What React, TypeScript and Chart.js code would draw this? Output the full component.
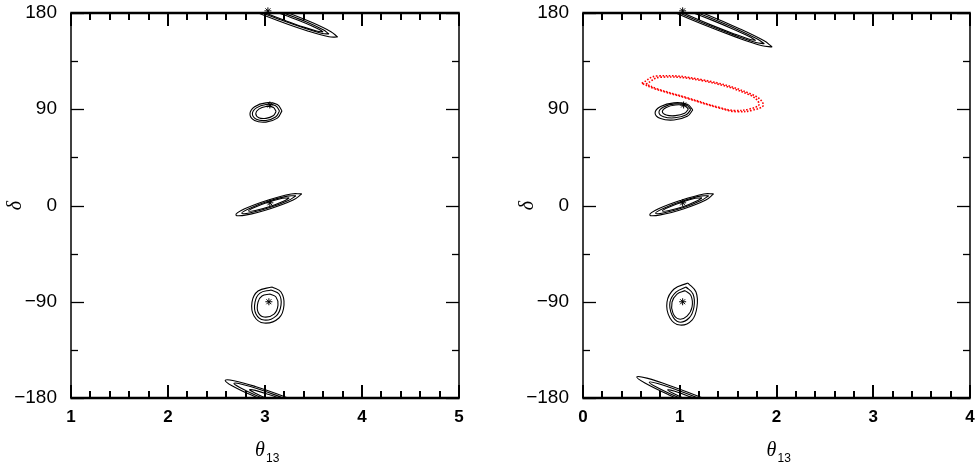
import React, { useEffect, useRef } from "react";
import { Chart, registerables } from "chart.js";
Chart.register(...registerables);

type Pt = [number, number];

// ---- axes ----
const Y_MIN = -180;
const Y_MAX = 180;
const Y_MAJOR = 90;
const Y_MINOR = 45;
const X_MINOR = 0.2;
const yTickValues = [-180, -90, 0, 90, 180];
const yTickLabels = ["\u2212180", "\u221290", "0", "90", "180"];
const leftXTickValues = [1, 2, 3, 4, 5];
const leftXTickLabels = ["1", "2", "3", "4", "5"];
const rightXTickValues = [0, 1, 2, 3, 4];
const rightXTickLabels = ["0", "1", "2", "3", "4"];

// ---- left panel contours [theta13, delta] ----
const leftWrapOuter: Pt[] = [[3.75,157.5],[3.68,162.5],[3.48,171.3],[3.19,181.7],[2.90,190.8],[2.68,196.2],[2.59,196.5],[2.66,191.5],[2.86,182.7],[3.15,172.3],[3.44,163.2],[3.66,157.8]];
const leftWrapMid: Pt[] = [[3.66,160.4],[3.60,164.3],[3.43,171.6],[3.18,180.3],[2.94,188.2],[2.75,193.1],[2.68,193.6],[2.74,189.8],[2.91,182.4],[3.16,173.7],[3.41,165.8],[3.59,160.9]];
const leftWrapInner: Pt[] = [[3.60,162.3],[3.55,165.1],[3.42,170.5],[3.23,177.1],[3.04,183.2],[2.90,187.1],[2.84,187.7],[2.89,185.0],[3.02,179.5],[3.21,172.9],[3.40,166.8],[3.54,163.0]];
const left90Outer: Pt[] = [[3.175,88.5],[3.127,94.5],[3.01,96],[2.893,92.3],[2.845,85.5],[2.893,79.5],[3.01,78],[3.127,81.7]];
const left90Mid: Pt[] = [[3.15,88.3],[3.109,93.3],[3.01,94.5],[2.911,91.3],[2.87,85.7],[2.911,80.7],[3.01,79.5],[3.109,82.7]];
const left90Inner: Pt[] = [[3.115,88],[3.084,91.9],[3.01,92.5],[2.936,90.1],[2.905,86],[2.936,82.1],[3.01,81.5],[3.084,83.9]];
const left0Outer: Pt[] = [[3.38,10.85],[3.27,10.8],[3.026,5.0],[2.79,-3.1],[2.70,-8.85],[2.81,-8.8],[3.054,-3.0],[3.29,5.1]];
const left0Mid: Pt[] = [[3.32,9.1],[3.23,8.8],[3.03,3.9],[2.84,-2.7],[2.76,-7.1],[2.85,-6.8],[3.05,-1.9],[3.24,4.7]];
const left0Inner: Pt[] = [[3.25,7.1],[3.18,6.7],[3.03,3.0],[2.89,-1.9],[2.83,-5.1],[2.90,-4.7],[3.05,-1.0],[3.19,3.9]];
const leftM90Outer: Pt[] = [[3.072,-76.2],[3.165,-80.9],[3.196,-93.1],[3.144,-105.2],[2.990,-109.9],[2.887,-103.3],[2.866,-90.3],[2.928,-80.0]];
const leftM90Mid: Pt[] = [[3.062,-79.0],[3.144,-82.8],[3.165,-93.1],[3.113,-103.4],[2.990,-107.1],[2.907,-101.5],[2.897,-90.3],[2.948,-81.9]];
const leftM90Inner: Pt[] = [[3.052,-82.8],[3.113,-85.6],[3.134,-93.1],[3.093,-101.5],[2.990,-104.3],[2.928,-99.6],[2.928,-90.3],[2.969,-84.7]];
const leftStars: Pt[] = [[3.03,182],[3.05,94],[3.05,2.5],[3.04,-90]];

// ---- right panel contours ----
const rightWrapOuter: Pt[] = [[1.956,148.3],[1.872,154.0],[1.623,165.1],[1.276,178.6],[0.923,190.8],[0.660,198.6],[0.556,199.7],[0.640,194.0],[0.889,182.9],[1.236,169.4],[1.589,157.2],[1.852,149.4]];
const rightWrapMid: Pt[] = [[1.875,151.2],[1.802,155.7],[1.59,164.9],[1.294,176.2],[0.994,186.7],[0.772,193.5],[0.685,194.8],[0.758,190.3],[0.97,181.1],[1.266,169.8],[1.566,159.3],[1.788,152.5]];
const rightWrapInner: Pt[] = [[1.785,154.3],[1.729,157.6],[1.566,164.4],[1.339,173.1],[1.11,181.1],[0.941,186.5],[0.875,187.7],[0.931,184.4],[1.094,177.6],[1.321,168.9],[1.55,160.9],[1.719,155.5]];
const right90Outer: Pt[] = [[1.135,89.5],[1.078,94.7],[0.94,96],[0.802,92.6],[0.745,86.5],[0.802,81.3],[0.94,80],[1.078,83.4]];
const right90Mid: Pt[] = [[1.115,89.8],[1.067,94.0],[0.95,95],[0.833,92.2],[0.785,87.2],[0.833,83.0],[0.95,82],[1.067,84.8]];
const right90Inner: Pt[] = [[1.09,90.2],[1.05,93.4],[0.955,94],[0.86,91.7],[0.82,87.8],[0.86,84.6],[0.955,84],[1.05,86.3]];
const right0Outer: Pt[] = [[1.35,10.85],[1.25,10.8],[1.016,5.0],[0.78,-3.1],[0.69,-8.85],[0.80,-8.8],[1.044,-3.0],[1.27,5.1]];
const right0Mid: Pt[] = [[1.30,9.1],[1.21,8.8],[1.02,3.9],[0.83,-2.7],[0.75,-7.1],[0.84,-6.8],[1.04,-1.9],[1.22,4.7]];
const right0Inner: Pt[] = [[1.23,7.1],[1.16,6.7],[1.02,3.0],[0.88,-1.9],[0.82,-5.1],[0.89,-4.7],[1.04,-1.0],[1.17,3.9]];
const rightM90Outer: Pt[] = [[1.085,-72.5],[1.168,-80.9],[1.178,-94.9],[1.127,-107.1],[1.003,-111.8],[0.899,-105.2],[0.868,-90.3],[0.941,-78.1]];
const rightM90Mid: Pt[] = [[1.065,-76.2],[1.137,-82.8],[1.147,-94.9],[1.096,-105.2],[0.992,-109.0],[0.920,-102.4],[0.899,-90.3],[0.961,-81.0]];
const rightM90Inner: Pt[] = [[1.054,-79.6],[1.116,-84.3],[1.127,-94.9],[1.075,-103.4],[0.992,-106.2],[0.930,-100.6],[0.920,-90.3],[0.972,-82.8]];
const rightRedOuter: Pt[] = [[0.607,114.3],[0.762,121.1],[1.243,117.4],[1.760,103.4],[1.864,94.0],[1.760,89.3],[1.589,87.7],[1.416,90.9],[1.072,100.3],[0.727,109.6]];
const rightRedInner: Pt[] = [[0.651,113.6],[0.795,119.9],[1.242,116.5],[1.723,103.4],[1.820,94.7],[1.723,90.3],[1.564,88.8],[1.403,91.8],[1.083,100.6],[0.762,109.2]];
const rightStars: Pt[] = [[1.03,182],[1.04,94],[1.03,2.5],[1.03,-90]];

const PERIOD = 360;

const leftContours: Pt[][] = [
  leftWrapOuter, leftWrapMid, leftWrapInner,
  left90Outer, left90Mid, left90Inner,
  left0Outer, left0Mid, left0Inner,
  leftM90Outer, leftM90Mid, leftM90Inner,
];
const leftWrapped: Pt[][] = [leftWrapOuter, leftWrapMid, leftWrapInner];
const rightContours: Pt[][] = [
  rightWrapOuter, rightWrapMid, rightWrapInner,
  right90Outer, right90Mid, right90Inner,
  right0Outer, right0Mid, right0Inner,
  rightM90Outer, rightM90Mid, rightM90Inner,
];
const rightWrapped: Pt[][] = [rightWrapOuter, rightWrapMid, rightWrapInner];
const rightDotted: Pt[][] = [rightRedOuter, rightRedInner];

const toXY = (pts: Pt[], dy = 0) =>
  pts.concat([pts[0]]).map(([x, y]) => ({ x, y: y + dy }));

const framePlugin = {
  id: "frame",
  afterDraw(chart: any, _args: any, opts: any) {
    const { ctx, chartArea: a, scales } = chart;
    const xs = scales.x;
    const ys = scales.y;
    const line = (x1: number, y1: number, x2: number, y2: number) => {
      ctx.beginPath();
      ctx.moveTo(x1, y1);
      ctx.lineTo(x2, y2);
      ctx.stroke();
    };
    ctx.save();
    ctx.strokeStyle = "#000";
    ctx.lineCap = "butt";
    const nx = Math.round((opts.xMax - opts.xMin) / X_MINOR);
    ctx.lineWidth = 2;
    for (let i = 0; i <= nx; i++) {
      const v = opts.xMin + i * X_MINOR;
      const px = Math.round(xs.getPixelForValue(v));
      const len = i % 5 === 0 ? 13 : 7;
      line(px, a.bottom, px, a.bottom - len);
      line(px, a.top, px, a.top + len);
    }
    ctx.lineWidth = 1.3;
    for (let v = Y_MIN; v <= Y_MAX; v += Y_MINOR) {
      const py = Math.round(ys.getPixelForValue(v)) + 0.5;
      const len = v % Y_MAJOR === 0 ? 13 : 7;
      line(a.left, py, a.left + len, py);
      line(a.right, py, a.right - len, py);
    }
    ctx.lineWidth = 1.5;
    line(a.left, a.top, a.left, a.bottom);
    line(a.right, a.top, a.right, a.bottom);
    ctx.lineWidth = 2.5;
    line(a.left - 0.75, a.top, a.right + 0.75, a.top);
    line(a.left - 0.75, a.bottom, a.right + 0.75, a.bottom);
    ctx.fillStyle = "#000";
    ctx.textBaseline = "alphabetic";
    ctx.textAlign = "left";
    const cx = (a.left + a.right) / 2;
    ctx.font = "italic 20px 'Liberation Serif'";
    ctx.fillText("\u03b8", cx - 10, 456);
    ctx.font = "12px 'Liberation Sans'";
    ctx.fillText("13", cx + 1, 462);
    ctx.save();
    ctx.translate(a.left - 50, (a.top + a.bottom) / 2);
    ctx.rotate(-Math.PI / 2);
    ctx.textAlign = "center";
    ctx.font = "italic 20px 'Liberation Serif'";
    ctx.fillText("\u03b4", 0, 0);
    ctx.restore();
    ctx.restore();
  },
};

type PanelProps = {
  left: number;
  width: number;
  xMin: number;
  xMax: number;
  xTickValues: number[];
  xTickLabels: string[];
  contours: Pt[][];
  wrapped: Pt[][];
  dotted: Pt[][];
  stars: Pt[];
  yAxisWidth: number;
  padRight: number;
};

const zeroPad = (s: any) => {
  s.paddingTop = 0;
  s.paddingBottom = 0;
  s.paddingLeft = 0;
  s.paddingRight = 0;
};

function Panel(p: PanelProps) {
  const ref = useRef<HTMLCanvasElement>(null);
  useEffect(() => {
    const solid = {
      showLine: true,
      pointRadius: 0,
      borderColor: "#000",
      borderWidth: 1.1,
      tension: 0.4,
      fill: false,
    };
    const datasets: any[] = [];
    p.contours.forEach((c) => datasets.push({ ...solid, data: toXY(c) }));
    p.wrapped.forEach((c) => datasets.push({ ...solid, data: toXY(c, -PERIOD) }));
    p.dotted.forEach((c) =>
      datasets.push({
        ...solid,
        borderColor: "#ff0000",
        borderWidth: 1.6,
        borderDash: [1.6, 1.6],
        data: toXY(c),
      })
    );
    datasets.push({
      showLine: false,
      data: p.stars.map(([x, y]) => ({ x, y })),
      pointStyle: "star",
      pointRadius: 3.5,
      borderColor: "#000",
      borderWidth: 1,
      backgroundColor: "#000",
      clip: false,
    });
    const chart = new Chart(ref.current!, {
      type: "scatter",
      data: { datasets },
      options: {
        animation: false,
        responsive: false,
        events: [],
        layout: { padding: { top: 13, right: p.padRight, left: 0, bottom: 0 } },
        elements: { line: { capBezierPoints: false } as any },
        plugins: {
          legend: { display: false },
          tooltip: { enabled: false },
          frame: { xMin: p.xMin, xMax: p.xMax },
        } as any,
        scales: {
          x: {
            type: "linear",
            min: p.xMin,
            max: p.xMax,
            grid: { display: false, drawTicks: false },
            border: { display: false },
            ticks: {
              stepSize: 1,
              padding: 9,
              color: "#000",
              font: { family: "'Liberation Sans'", size: 17, weight: "bold" },
              callback: (v: any) => {
                const i = p.xTickValues.indexOf(Number(v));
                return i >= 0 ? p.xTickLabels[i] : "";
              },
            },
            afterFit: (s: any) => {
              s.height = 73;
              zeroPad(s);
            },
          },
          y: {
            type: "linear",
            min: Y_MIN,
            max: Y_MAX,
            grid: { display: false, drawTicks: false },
            border: { display: false },
            ticks: {
              stepSize: Y_MAJOR,
              padding: 14,
              color: "#000",
              font: { family: "'Liberation Sans'", size: 19 },
              callback: (v: any) => {
                const i = yTickValues.indexOf(Number(v));
                return i >= 0 ? yTickLabels[i] : "";
              },
            },
            afterFit: (s: any) => {
              s.width = p.yAxisWidth;
              zeroPad(s);
            },
          },
        },
      } as any,
      plugins: [framePlugin],
    });
    return () => chart.destroy();
  }, []);
  return (
    <canvas
      ref={ref}
      width={p.width}
      height={471}
      style={{ position: "absolute", left: p.left, top: 0, width: p.width, height: 471 }}
    />
  );
}

export default function App() {
  return (
    <div style={{ position: "fixed", left: 0, top: 0, width: 975, height: 471, background: "#fff" }}>
      <Panel
        left={0}
        width={487}
        xMin={1}
        xMax={5}
        xTickValues={leftXTickValues}
        xTickLabels={leftXTickLabels}
        contours={leftContours}
        wrapped={leftWrapped}
        dotted={[]}
        stars={leftStars}
        yAxisWidth={71}
        padRight={28}
      />
      <Panel
        left={487}
        width={488}
        xMin={0}
        xMax={4}
        xTickValues={rightXTickValues}
        xTickLabels={rightXTickLabels}
        contours={rightContours}
        wrapped={rightWrapped}
        dotted={rightDotted}
        stars={rightStars}
        yAxisWidth={96}
        padRight={5}
      />
    </div>
  );
}
